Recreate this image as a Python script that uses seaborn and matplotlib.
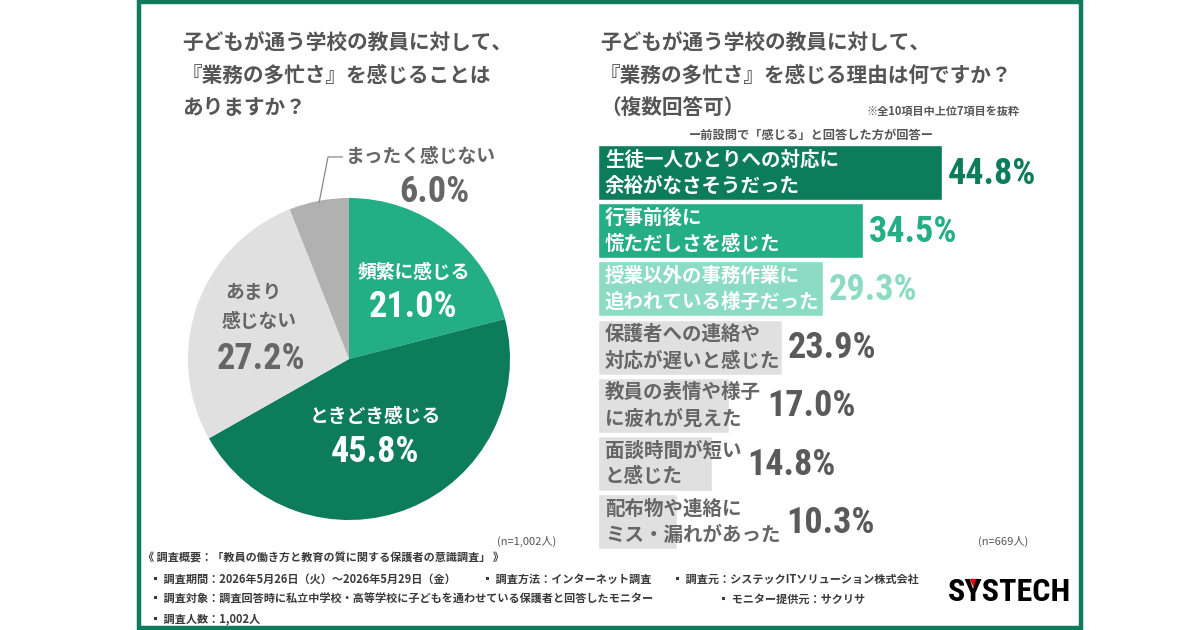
import numpy as np
import pandas as pd
import matplotlib
matplotlib.use("Agg")
import matplotlib.pyplot as plt
import matplotlib.patches as mpatches
from matplotlib.lines import Line2D
from matplotlib import font_manager as fm
import seaborn as sns

# pie: 業務の多忙さを感じるか (n=1,002)
pie_labels = ["頻繁に感じる", "ときどき感じる", "あまり\n感じない", "まったく感じない"]
pie_values = [21.0, 45.8, 27.2, 6.0]
pie_colors = ["#23ae85", "#0c7c5a", "#e0e0e0", "#b1b1b1"]

# bars: 理由 (n=669)
reasons = [
    "生徒一人ひとりへの対応に\n余裕がなさそうだった",
    "行事前後に\n慌ただしさを感じた",
    "授業以外の事務作業に\n追われている様子だった",
    "保護者への連絡や\n対応が遅いと感じた",
    "教員の表情や様子\nに疲れが見えた",
    "面談時間が短い\nと感じた",
    "配布物や連絡に\nミス・漏れがあった",
]
reason_values = [44.8, 34.5, 29.3, 23.9, 17.0, 14.8, 10.3]
bar_colors = ["#0c7c5a", "#23ae85", "#8bdcc2", "#e0e0e0", "#e0e0e0", "#e0e0e0", "#e0e0e0"]
text_colors = ["white", "white", "white", "#666666", "#666666", "#666666", "#666666"]
pct_colors = ["#0c7c5a", "#23ae85", "#8bdcc2", "#5a5a5a", "#5a5a5a", "#5a5a5a", "#5a5a5a"]

sns.set_theme(style="white")
plt.rcParams['font.family'] = ['Noto Sans CJK JP', 'DejaVu Sans']


# narrow bold face for the numbers, whatever is installed
def pick_narrow():
    fonts = fm.fontManager.ttflist
    for name in ['Liberation Sans Narrow', 'Roboto Condensed', 'DejaVu Sans', 'Noto Sans', 'Open Sans']:
        for f in fonts:
            if f.name == name and str(f.stretch) in ('condensed', 'semi-condensed', '87.5', '75') \
                    and f.weight in ('bold', 700, 'semibold', 600):
                return fm.FontProperties(fname=f.fname), True
    for f in fonts:
        if 'condensed' in str(f.stretch) and f.weight in ('bold', 700):
            return fm.FontProperties(fname=f.fname), True
    return fm.FontProperties(family='DejaVu Sans', weight='bold'), False


num_fp, narrow = pick_narrow()
NUM = 26 if narrow else 22

W, H = 1199, 630
fig = plt.figure(figsize=(W / 100, H / 100), dpi=100)
fig.patch.set_facecolor("white")


def px(x, y):
    return x / W, 1 - y / H


def numtext(ax, x, y, s, size=NUM, **kw):
    fp = num_fp.copy()
    fp.set_size(size)
    return ax.text(x, y, s, fontproperties=fp, **kw)


GRAY = "#555555"

# frame
fig.patches.append(mpatches.Rectangle(px(138.5, 628), (1080.5 - 138.5) / W, 626 / H,
                                      transform=fig.transFigure, fill=False,
                                      edgecolor="#0c7c5a", linewidth=3.2))

# titles
for i, line in enumerate(["子どもが通う学校の教員に対して、", "『業務の多忙さ』を感じることは", "ありますか？"]):
    fig.text(*px(182, 43 + 32 * i), line, fontsize=14.9, weight="bold", color=GRAY, va="center")
for i, line in enumerate(["子どもが通う学校の教員に対して、", "『業務の多忙さ』を感じる理由は何ですか？", "（複数回答可）"]):
    fig.text(*px(600, 43 + 32 * i), line, fontsize=14.9, weight="bold", color=GRAY, va="center")
fig.text(*px(1020, 111), "※全10項目中上位7項目を抜粋", fontsize=8, weight="bold", color=GRAY,
         ha="right", va="center")
fig.text(*px(811, 135), "ー前設問で「感じる」と回答した方が回答ー", fontsize=8.8, weight="bold",
         color=GRAY, ha="center", va="center")

# ---- pie ----
cx, cy, r = 349, 359, 161
ax_pie = fig.add_axes([(cx - r) / W, (H - cy - r) / H, 2 * r / W, 2 * r / H])
wedges, _ = ax_pie.pie(pie_values, colors=pie_colors, startangle=90, counterclock=False,
                       wedgeprops=dict(linewidth=0))
ax_pie.set_xlim(-1, 1)
ax_pie.set_ylim(-1, 1)
ax_pie.set_aspect("equal")
ax_pie.axis("off")

lab_kw = dict(fontsize=13.5, weight="bold", va="center")
ax_pie.text(0.40, 0.54, pie_labels[0], color="white", ha="center", **lab_kw)
numtext(ax_pie, 0.40, 0.32, f"{pie_values[0]:.1f}%", color="white", ha="center", va="center")
ax_pie.text(0.16, -0.36, pie_labels[1], color="white", ha="center", **lab_kw)
numtext(ax_pie, 0.16, -0.58, f"{pie_values[1]:.1f}%", color="white", ha="center", va="center")
l1, l2 = pie_labels[2].split("\n")
ax_pie.text(-0.77, 0.41, l1, color="#666666", ha="left", **lab_kw)
ax_pie.text(-0.79, 0.23, l2, color="#666666", ha="left", **lab_kw)
numtext(ax_pie, -0.82, 0.0, f"{pie_values[2]:.1f}%", color="#666666", ha="left", va="center")
ax_pie.text(-0.02, 1.255, pie_labels[3], color="#666666", ha="left", clip_on=False, **lab_kw)
numtext(ax_pie, 0.53, 1.04, f"{pie_values[3]:.1f}%", color="#666666", ha="center", va="center")

# leader line from the small wedge
mid = np.deg2rad(90 + 360 * pie_values[3] / 200)
sx, sy = 0.99 * np.cos(mid), 0.99 * np.sin(mid)
ax_pie.plot([sx, sx + 0.055, -0.04], [sy, 1.255, 1.255], color="#888888", lw=0.9, clip_on=False)

fig.text(*px(527, 541), "(n=1,002人)", fontsize=8, color=GRAY, ha="center", va="center")

# ---- bars ----
step = 58.2
top = 172.5 - step / 2
ax_bar = fig.add_axes([598 / W, (H - (top + 7 * step)) / H, 460.8 / W, 7 * step / H])
df = pd.DataFrame({"reason": reasons, "value": reason_values})
sns.barplot(data=df, x="value", y="reason", hue="reason", palette=bar_colors, legend=False,
            orient="h", width=0.945, saturation=1, ax=ax_bar)
ax_bar.set_xlim(0, 60)
ax_bar.set_ylim(6.5, -0.5)
ax_bar.axis("off")

inner = []
for i, lab in enumerate(reasons):
    a, b = lab.split("\n")
    t1 = ax_bar.text(0.9, i - 0.22, a, fontsize=14, weight="bold", color=text_colors[i], va="center")
    t2 = ax_bar.text(0.9, i + 0.23, b, fontsize=14, weight="bold", color=text_colors[i], va="center")
    inner.append((t1, t2))

# percentage goes right of whichever is longer: the bar or its text
fig.canvas.draw()
rend = fig.canvas.get_renderer()
inv = ax_bar.transData.inverted()
for i, v in enumerate(reason_values):
    right = max(t.get_window_extent(rend).x1 for t in inner[i])
    text_end = inv.transform((right, 0))[0]
    x0 = max(v, text_end) + 0.8
    numtext(ax_bar, x0, i + 0.02, f"{v:.1f}%", color=pct_colors[i], va="center", ha="left")

fig.text(*px(1003, 541), "(n=669人)", fontsize=8, color=GRAY, ha="center", va="center")

# ---- footer ----
foot = dict(fontsize=8, color="#3a3a3a", va="center", weight="bold")
fig.text(*px(143, 558), "《 調査概要：「教員の働き方と教育の質に関する保護者の意識調査」 》", **foot)
fig.text(*px(150, 579), "▪ 調査期間：2026年5月26日（火）～2026年5月29日（金）", **foot)
fig.text(*px(482, 579), "▪ 調査方法：インターネット調査", **foot)
fig.text(*px(672, 579), "▪ 調査元：システックITソリューション株式会社", **foot)
fig.text(*px(150, 599), "▪ 調査対象：調査回答時に私立中学校・高等学校に子どもを通わせている保護者と回答したモニター", **foot)
fig.text(*px(718, 599), "▪ モニター提供元：サクリサ", **foot)
fig.text(*px(150, 619), "▪ 調査人数：1,002人", **foot)

# logo
logo = numtext(fig, *px(1071, 592), "SYSTECH", size=23 if narrow else 19,
               color="black", ha="right", va="center")
s_fp = num_fp.copy()
s_fp.set_size(logo.get_fontsize())
tmp = fig.text(0, 0, "S", fontproperties=s_fp)
tmp2 = fig.text(0, 0, "SY", fontproperties=s_fp)
fig.canvas.draw()
bb = logo.get_window_extent(rend)
ws = tmp.get_window_extent(rend).width
wsy = tmp2.get_window_extent(rend).width
tmp.remove()
tmp2.remove()
ycx = bb.x0 + (ws + wsy) / 2
fig.add_artist(Line2D([ycx / W], [(bb.y1 - 6) / H], transform=fig.transFigure, marker="v",
                      markersize=6, color="#e60012", linestyle="none"))

fig.savefig("out.png", dpi=100)
